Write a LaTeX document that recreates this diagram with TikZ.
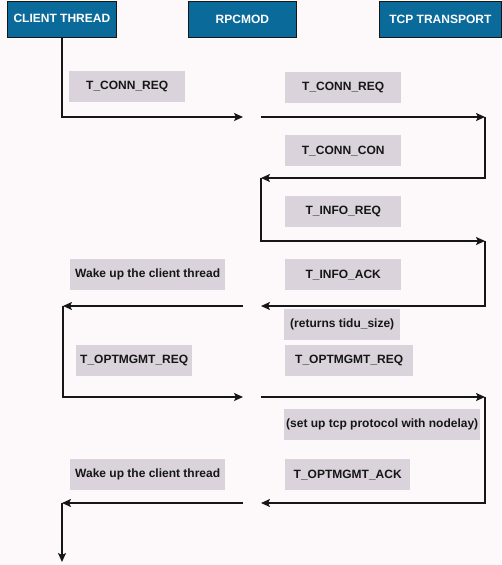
\documentclass[tikz,border=0pt]{standalone}
\usepackage{fontspec}
\setmainfont{Liberation Sans}
\usetikzlibrary{arrows.meta}
\definecolor{bg}{HTML}{FDF9FA}
\definecolor{hdr}{HTML}{0A6A9A}
\definecolor{lbl}{HTML}{DAD3DC}
\definecolor{ink}{HTML}{161616}
\begin{document}
\begin{tikzpicture}[x=1pt,y=-1pt,
  hdrbox/.style={draw=ink, line width=0.7pt, fill=hdr, text=white,
    font=\bfseries\fontsize{12}{14}\selectfont, anchor=north west,
    inner sep=0pt, minimum height=36pt},
  lblbox/.style={fill=lbl, text=ink, font=\bfseries\fontsize{12}{14}\selectfont,
    anchor=north west, inner sep=0pt, minimum height=31pt},
  flow/.style={draw=ink, line width=2pt,
    -{Stealth[length=9pt,width=8pt,inset=2pt]}},
]
\useasboundingbox[fill=bg] (0,0) rectangle (501,565);

% headers
\node[hdrbox, minimum width=109pt] (ct)  at (7,0.5)   {CLIENT THREAD};
\node[hdrbox, minimum width=108pt] (rpc) at (188,1)   {RPCMOD};
\node[hdrbox, minimum width=122pt] (tcp) at (379,1)   {TCP TRANSPORT};

% labels
\node[lblbox, minimum width=116pt] (l1)  at (69,71)   {T\_CONN\_REQ};
\node[lblbox, minimum width=116pt] (l2)  at (285,72)  {T\_CONN\_REQ};
\node[lblbox, minimum width=116pt] (l3)  at (285,135) {T\_CONN\_CON};
\node[lblbox, minimum width=116pt] (l4)  at (285,196) {T\_INFO\_REQ};
\node[lblbox, minimum width=155pt] (l5)  at (70,259)  {Wake up the client thread};
\node[lblbox, minimum width=116pt] (l6)  at (285,259) {T\_INFO\_ACK};
\node[lblbox, minimum width=116pt] (l7)  at (284,309) {(returns tidu\_size)};
\node[lblbox, minimum width=116pt] (l8)  at (76,345)  {T\_OPTMGMT\_REQ};
\node[lblbox, minimum width=128pt] (l9)  at (285,345) {T\_OPTMGMT\_REQ};
\node[lblbox, minimum width=196pt] (l10) at (284,409) {(set up tcp protocol with nodelay)};
\node[lblbox, minimum width=155pt] (l11) at (70,459)  {Wake up the client thread};
\node[lblbox, minimum width=125pt] (l12) at (285,459) {T\_OPTMGMT\_ACK};

% turning points
\coordinate (a1) at (243,117);
\coordinate (b1) at (261,117);
\coordinate (r1) at (485,117);
\coordinate (m2) at (261,178);
\coordinate (r3) at (485,241);
\coordinate (m4) at (261,306);
\coordinate (n4) at (243,306);
\coordinate (p4) at (63,306);
\coordinate (m5) at (243,397);
\coordinate (b5) at (261,397);
\coordinate (r5) at (485,397);
\coordinate (m6) at (261,503);
\coordinate (n6) at (243,503);
\coordinate (p6) at (62,503);
\coordinate (e6) at (62,562);

% connectors
\draw[flow] (ct.south) |- (a1);
\draw[flow] (b1) -- (r1);
\draw[flow] (r1) |- (m2);
\draw[flow] (m2) |- (r3);
\draw[flow] (r3) |- (m4);
\draw[flow] (n4) -- (p4);
\draw[flow] (p4) |- (m5);
\draw[flow] (b5) -- (r5);
\draw[flow] (r5) |- (m6);
\draw[flow] (n6) -- (p6);
\draw[flow] (p6) -- (e6);
\end{tikzpicture}
\end{document}
